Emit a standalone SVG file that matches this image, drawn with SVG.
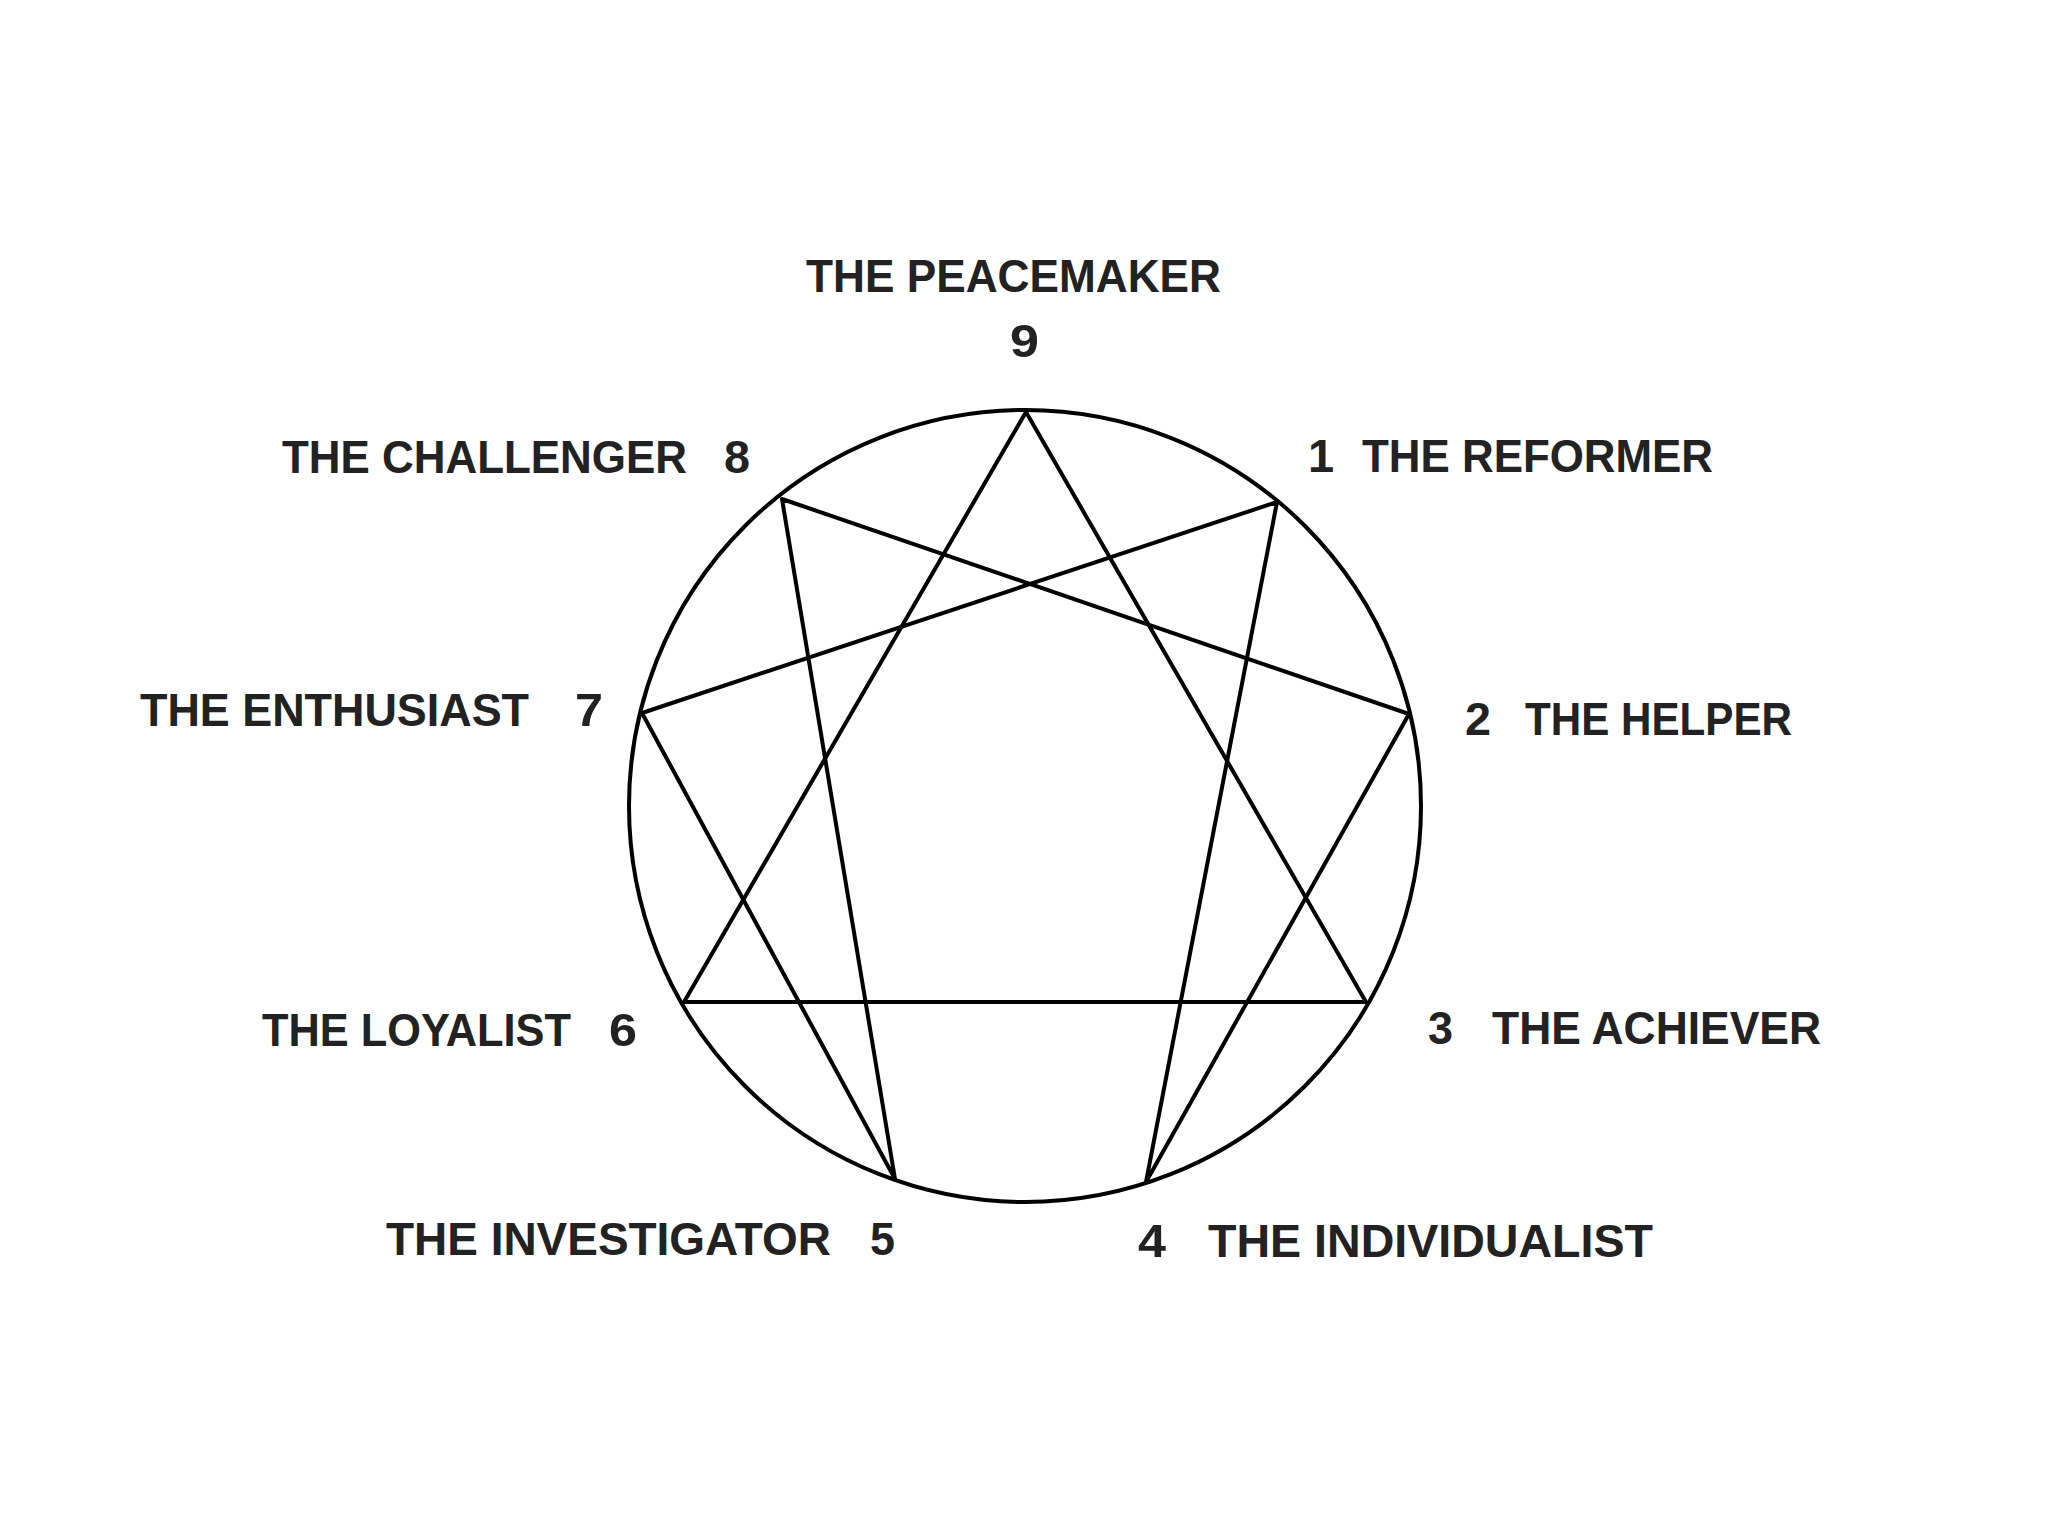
<svg xmlns="http://www.w3.org/2000/svg" width="2048" height="1536" viewBox="0 0 2048 1536">
<style>
.lbl{font-family:"Liberation Sans",Arial,sans-serif;font-weight:bold;font-size:47px;fill:#222;}
.ln{stroke:#000;stroke-width:4;fill:none;stroke-linejoin:round;stroke-linecap:round;}
</style>
<rect width="2048" height="1536" fill="#fff"/>
<g id="ring">
<circle class="ln" cx="1025" cy="806" r="396"/>
</g>
<g id="connectors">
<polygon class="ln" points="1026,412 1366,1002 684,1002"/>
<polygon class="ln" points="1277,502 1146,1182 1409,714 782,499 895,1179 642,713"/>
</g>
<g id="node9">
<text class="lbl" x="806" y="292" textLength="415" lengthAdjust="spacingAndGlyphs">THE PEACEMAKER</text>
<text class="lbl" x="1010" y="357" textLength="29" lengthAdjust="spacingAndGlyphs">9</text>
</g>
<g id="node1">
<text class="lbl" x="1321" y="472" text-anchor="middle">1</text>
<text class="lbl" x="1362" y="472" textLength="351" lengthAdjust="spacingAndGlyphs">THE REFORMER</text>
</g>
<g id="node2">
<text class="lbl" x="1465" y="735" textLength="26" lengthAdjust="spacingAndGlyphs">2</text>
<text class="lbl" x="1525" y="735" textLength="267" lengthAdjust="spacingAndGlyphs">THE HELPER</text>
</g>
<g id="node3">
<text class="lbl" x="1428" y="1044" textLength="25" lengthAdjust="spacingAndGlyphs">3</text>
<text class="lbl" x="1492" y="1044" textLength="329" lengthAdjust="spacingAndGlyphs">THE ACHIEVER</text>
</g>
<g id="node4">
<text class="lbl" x="1138" y="1257" textLength="28" lengthAdjust="spacingAndGlyphs">4</text>
<text class="lbl" x="1208" y="1257" textLength="445" lengthAdjust="spacingAndGlyphs">THE INDIVIDUALIST</text>
</g>
<g id="node5">
<text class="lbl" x="386" y="1255" textLength="445" lengthAdjust="spacingAndGlyphs">THE INVESTIGATOR</text>
<text class="lbl" x="870" y="1255" textLength="25" lengthAdjust="spacingAndGlyphs">5</text>
</g>
<g id="node6">
<text class="lbl" x="262" y="1046" textLength="309" lengthAdjust="spacingAndGlyphs">THE LOYALIST</text>
<text class="lbl" x="609" y="1046" textLength="28" lengthAdjust="spacingAndGlyphs">6</text>
</g>
<g id="node7">
<text class="lbl" x="140" y="726" textLength="389" lengthAdjust="spacingAndGlyphs">THE ENTHUSIAST</text>
<text class="lbl" x="575" y="726" textLength="28" lengthAdjust="spacingAndGlyphs">7</text>
</g>
<g id="node8">
<text class="lbl" x="282" y="473" textLength="405" lengthAdjust="spacingAndGlyphs">THE CHALLENGER</text>
<text class="lbl" x="724" y="473" textLength="26" lengthAdjust="spacingAndGlyphs">8</text>
</g>
</svg>
